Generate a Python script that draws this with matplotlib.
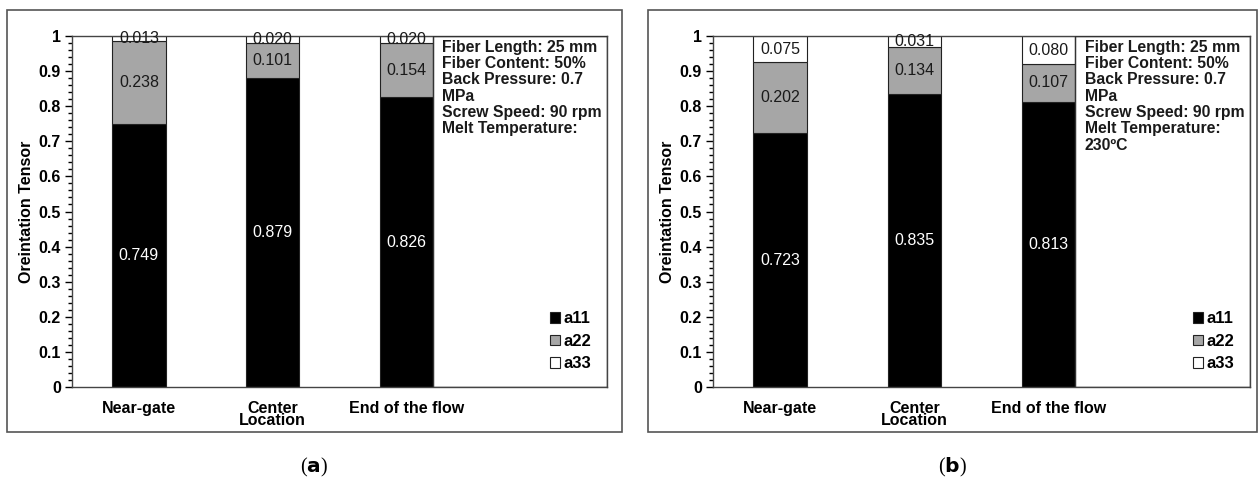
import matplotlib.pyplot as plt
import matplotlib.patches as patches
from matplotlib.ticker import MultipleLocator
import numpy as np

plt.rcParams['font.family'] = ['Liberation Sans', 'DejaVu Sans']

categories = ['Near-gate', 'Center\nLocation', 'End of the flow']
series = ['a11', 'a22', 'a33']

a11_a = [0.749, 0.879, 0.826]
a22_a = [0.238, 0.101, 0.154]
a33_a = [0.013, 0.020, 0.020]

a11_b = [0.723, 0.835, 0.813]
a22_b = [0.202, 0.134, 0.107]
a33_b = [0.075, 0.031, 0.080]

info_a = ['Fiber Length: 25 mm', 'Fiber Content: 50%', 'Back Pressure: 0.7',
          'MPa', 'Screw Speed: 90 rpm', 'Melt Temperature:']
info_b = info_a + ['230\u00baC']

colors = {'a11': '#000000', 'a22': '#a6a6a6', 'a33': '#ffffff'}
label_colors = {'a11': 'white', 'a22': '#1a1a1a', 'a33': '#1a1a1a'}

W, H = 1258, 480
BAR_W = 0.4


def draw_panel(fig, box, ax_rect, vals, info, caption):
    # outer frame around the panel
    fig.add_artist(patches.Rectangle((box[0], box[1]), box[2], box[3],
                                     transform=fig.transFigure, fill=False,
                                     edgecolor='#555555', lw=1.2))
    ax = fig.add_axes(ax_rect)
    x = np.arange(len(categories))
    bottom = np.zeros(len(categories))
    for name, v in zip(series, vals):
        v = np.array(v)
        ax.bar(x, v, BAR_W, bottom=bottom, color=colors[name],
               edgecolor='#222222', linewidth=0.8, label=name, zorder=2)
        for xi, b, vi in zip(x, bottom, v):
            ax.text(xi, b + vi / 2, f'{vi:.3f}', ha='center', va='center',
                    fontsize=11.5, color=label_colors[name], zorder=4)
        bottom += v

    ax.set_xlim(-0.5, 3.5)
    ax.set_ylim(0, 1)
    ax.set_xticks(x)
    ax.set_xticklabels(categories, fontsize=11.5, fontweight='bold',
                       linespacing=0.8)
    ax.tick_params(axis='x', length=0, pad=10)
    ax.yaxis.set_major_locator(MultipleLocator(0.1))
    ax.yaxis.set_minor_locator(MultipleLocator(0.02))
    ax.set_yticks(np.arange(0, 1.01, 0.1))
    ax.set_yticklabels(['0'] + [f'{t:.1f}' for t in np.arange(0.1, 0.95, 0.1)] + ['1'],
                       fontsize=11.5, fontweight='bold')
    ax.tick_params(axis='y', which='major', length=5, width=1, direction='out', pad=3)
    ax.tick_params(axis='y', which='minor', length=3, width=1, direction='out')
    ax.set_ylabel('Oreintation Tensor', fontsize=11.5, fontweight='bold', labelpad=3)
    for s in ax.spines.values():
        s.set_color('#444444')
        s.set_linewidth(1)

    # info box on the right of the plot area
    ax.add_patch(patches.Rectangle((2 + BAR_W / 2, 0), 3.5 - 2 - BAR_W / 2, 1,
                                   fill=False, edgecolor='#333333', lw=1, zorder=3))
    for i, line in enumerate(info):
        ax.text(2.27, 0.968 - i * 0.0465, line, fontsize=11.3, fontweight='bold',
                ha='left', va='center', color='#1a1a1a', zorder=4)

    leg = ax.legend(loc='lower right', bbox_to_anchor=(1.0, 0.0), frameon=False,
                    prop={'weight': 'bold', 'size': 12}, handlelength=0.6,
                    handleheight=0.6, handletextpad=0.2, labelspacing=0.45,
                    borderaxespad=0.55)
    for h in leg.legend_handles:
        h.set_linewidth(0.8)
        h.set_edgecolor('#222222')

    fig.text(box[0] + box[2] / 2, 1 - 467 / H, caption, ha='center', va='center',
             fontsize=14.5, family='Liberation Serif')
    return ax


fig = plt.figure(figsize=(W / 100, H / 100), dpi=100)

draw_panel(fig, (7 / W, 1 - 432 / H, 615 / W, 422 / H),
           (72 / W, 1 - 387 / H, 535 / W, 351 / H),
           [a11_a, a22_a, a33_a], info_a, r'($\mathbf{a}$)')
draw_panel(fig, (648 / W, 1 - 432 / H, 609 / W, 422 / H),
           (713 / W, 1 - 387 / H, 537 / W, 351 / H),
           [a11_b, a22_b, a33_b], info_b, r'($\mathbf{b}$)')

plt.savefig('out.png', dpi=100)
